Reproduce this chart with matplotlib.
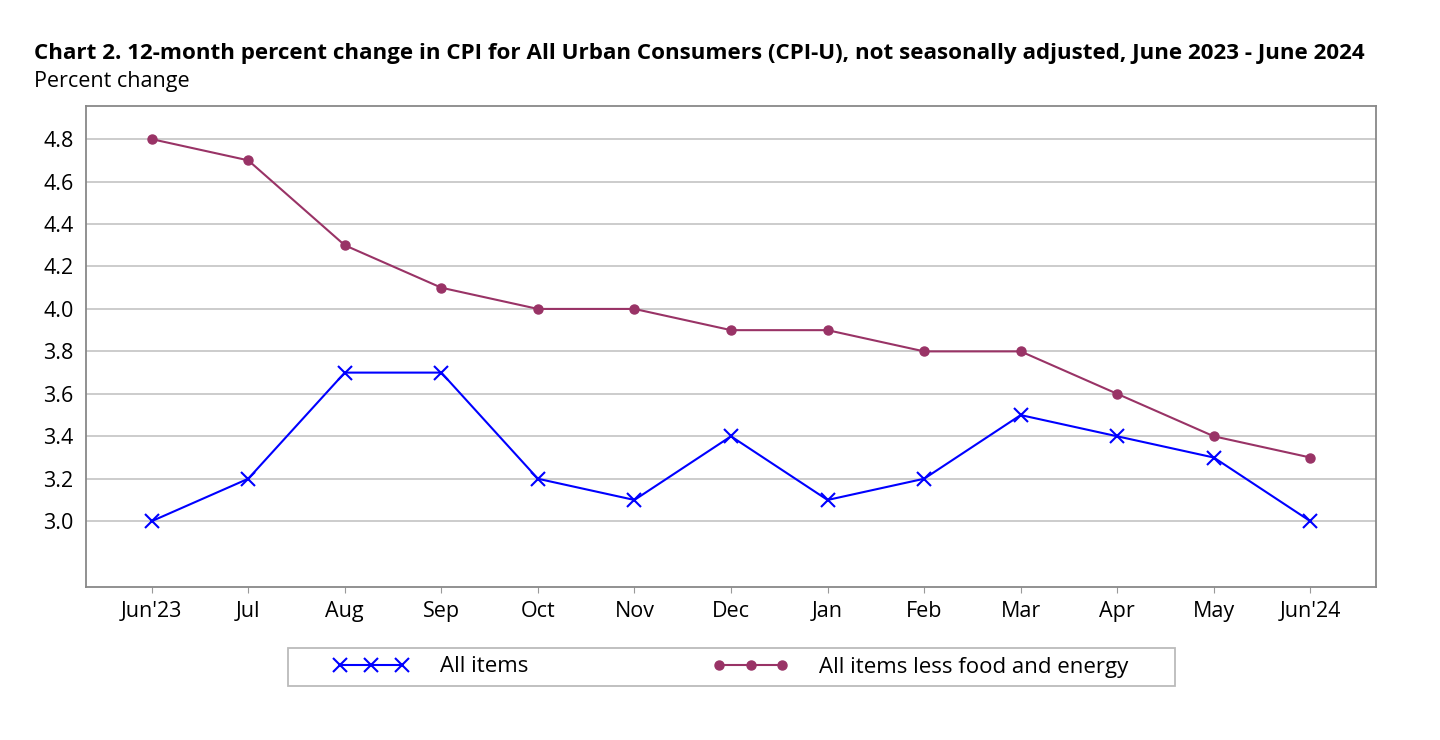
import matplotlib
matplotlib.use("Agg")
import matplotlib.pyplot as plt
from matplotlib.patches import Rectangle

months = ["Jun'23", "Jul", "Aug", "Sep", "Oct", "Nov", "Dec",
          "Jan", "Feb", "Mar", "Apr", "May", "Jun'24"]
all_items = [3.0, 3.2, 3.7, 3.7, 3.2, 3.1, 3.4, 3.1, 3.2, 3.5, 3.4, 3.3, 3.0]
core = [4.8, 4.7, 4.3, 4.1, 4.0, 4.0, 3.9, 3.9, 3.8, 3.8, 3.6, 3.4, 3.3]
yticks = [3.0, 3.2, 3.4, 3.6, 3.8, 4.0, 4.2, 4.4, 4.6, 4.8]

plt.rcParams['font.family'] = ['Open Sans', 'DejaVu Sans']

W, H = 1440, 740
fig = plt.figure(figsize=(W/100, H/100), dpi=100)
ax = fig.add_axes([86/W, 1 - 587/H, (1376-86)/W, (587-106)/H])

x = list(range(len(months)))
ax.plot(x, all_items, color="#0000ff", lw=1.5, marker="x", ms=10, mew=1.5,
        label="All items")
ax.plot(x, core, color="#993366", lw=1.5, marker="o", ms=6.5,
        label="All items less food and energy")

ax.set_xlim(-0.68, 12.68)
ax.set_ylim(2.69, 4.956)
ax.set_xticks(x)
ax.set_xticklabels(months)
ax.set_yticks(yticks)
ax.set_yticklabels([f"{v:.1f}" for v in yticks])
ax.tick_params(axis="both", labelsize=15.5)
ax.tick_params(axis="y", length=0, pad=9)
ax.tick_params(axis="x", length=4, direction="out", color="#999999", pad=6)
ax.grid(axis="y", color="#c8c8c8", lw=1.3)
ax.set_axisbelow(True)
for s in ax.spines.values():
    s.set_color("#888888")
    s.set_linewidth(1.3)

fig.text(34/W, 1 - 53/H, "Chart 2. 12-month percent change in CPI for All Urban Consumers (CPI-U), "
         "not seasonally adjusted, June 2023 - June 2024",
         fontsize=16.1, fontweight="bold", va="center")
fig.text(34/W, 1 - 81/H, "Percent change", fontsize=15.5, va="center")

# legend without its own frame; a wider box is drawn around it
leg = fig.legend(loc="center", bbox_to_anchor=(731/W, 1 - 667/H), ncol=2,
                 numpoints=3, fontsize=16, frameon=False,
                 handlelength=3.4, columnspacing=8.3,
                 borderpad=0, handletextpad=1.4, borderaxespad=0)
fig.patches.append(Rectangle((288/W, 1 - 686/H), (1175-288)/W, (686-648)/H,
                             transform=fig.transFigure, fill=False,
                             edgecolor="#bbbbbb", lw=1.3))

fig.savefig("out.png", dpi=100)
